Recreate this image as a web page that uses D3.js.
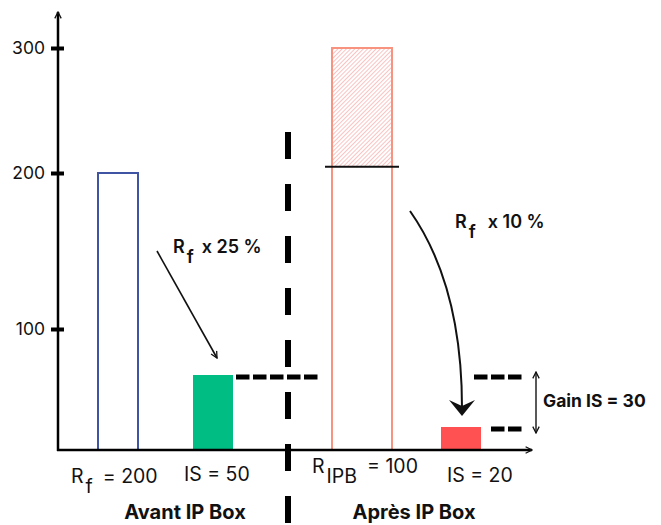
<!DOCTYPE html>
<html>
<head>
<meta charset="utf-8">
<script src="https://cdn.jsdelivr.net/npm/d3@7"></script>
<style>
  body { margin: 0; background: #fff; }
  text { font-family: Inter, "Noto Sans", sans-serif; fill: #111; }
</style>
</head>
<body>
<script>
var w = 661;
var h = 525;

var categories = ["Rf", "IS_avant", "RIPB", "IS_apres"];
var values = [200, 50, 300, 20];
var tickValues = [100, 200, 300];
var seuilIPB = 205;       // trait noir sur la barre R_IPB
var gainIS = [50, 20];    // niveaux des pointillés à droite

var svg = d3.select("body")
    .append("svg")
    .attr("width", w)
    .attr("height", h);

// axe schématique (pas à l'échelle) : échelle polylinéaire
var y = d3.scaleLinear()
    .domain([0, 20, 50, 100, 200, 300])
    .range([450, 427, 375, 329, 173, 48]);

var x = d3.scaleOrdinal()
    .domain(categories)
    .range([118, 213, 362, 461]);

var barW = [40, 40, 60, 40];

var defs = svg.append("defs");
var pat = defs.append("pattern")
    .attr("id", "hatch")
    .attr("patternUnits", "userSpaceOnUse")
    .attr("width", 3)
    .attr("height", 3)
    .attr("patternTransform", "rotate(45)");
pat.append("rect").attr("width", 3).attr("height", 3).attr("fill", "#fff");
pat.append("line")
    .attr("x1", 0).attr("y1", 0).attr("x2", 0).attr("y2", 3)
    .attr("stroke", "#f7aaa8").attr("stroke-width", 1.4);

defs.append("marker")
    .attr("id", "open")
    .attr("viewBox", "0 0 10 10")
    .attr("refX", 9).attr("refY", 5)
    .attr("markerWidth", 8).attr("markerHeight", 8)
    .attr("markerUnits", "userSpaceOnUse")
    .attr("orient", "auto-start-reverse")
    .append("path")
    .attr("d", "M1,1 L9,5 L1,9")
    .attr("fill", "none")
    .attr("stroke", "#111")
    .attr("stroke-width", 1.6);

// barres
svg.selectAll("rect.bar")
    .data(categories)
    .enter()
    .append("rect")
    .attr("class", "bar")
    .attr("x", function (d, i) { return x(d) - barW[i] / 2; })
    .attr("y", function (d, i) { return y(values[i]); })
    .attr("width", function (d, i) { return barW[i]; })
    .attr("height", function (d, i) { return y(0) - y(values[i]); })
    .attr("fill", function (d, i) {
        if (i == 0 || i == 2) { return "none"; }
        if (i == 1) { return "#00bd84"; }
        return "#ff5152";
    })
    .attr("stroke", function (d, i) {
        if (i == 0) { return "#3f54a3"; }
        if (i == 2) { return "#f8937f"; }
        return "none";
    })
    .attr("stroke-width", 2);

// partie hachurée de R_IPB
svg.append("rect")
    .attr("x", x("RIPB") - barW[2] / 2 + 1)
    .attr("y", y(values[2]) + 1)
    .attr("width", barW[2] - 2)
    .attr("height", y(seuilIPB) - y(values[2]) - 1)
    .attr("fill", "url(#hatch)");

svg.append("line")
    .attr("x1", x("RIPB") - barW[2] / 2 - 7)
    .attr("x2", x("RIPB") + barW[2] / 2 + 7)
    .attr("y1", y(seuilIPB)).attr("y2", y(seuilIPB))
    .attr("stroke", "#111").attr("stroke-width", 2);

// axes
var yAxis = d3.axisLeft(y)
    .tickValues(tickValues)
    .tickSize(0)
    .tickPadding(13);

var gy = svg.append("g")
    .attr("transform", "translate(58,0)")
    .call(yAxis);
gy.select(".domain").remove();
gy.selectAll("text")
    .attr("font-size", 17.5)
    .attr("fill", "#222")
    .attr("font-family", "Inter, sans-serif");
gy.selectAll(".tick").append("line")
    .attr("x1", -7).attr("x2", 6)
    .attr("stroke", "#000").attr("stroke-width", 4);

svg.append("line")
    .attr("x1", 58).attr("x2", 58)
    .attr("y1", y(0) + 1).attr("y2", 12)
    .attr("stroke", "#000").attr("stroke-width", 2.5)
    .attr("marker-end", "url(#open)");

svg.append("line")
    .attr("x1", 57).attr("x2", 532)
    .attr("y1", y(0)).attr("y2", y(0))
    .attr("stroke", "#000").attr("stroke-width", 2.5)
    .attr("marker-end", "url(#open)");

// séparation avant / après
svg.append("line")
    .attr("x1", 288).attr("x2", 288)
    .attr("y1", 132).attr("y2", h)
    .attr("stroke", "#000").attr("stroke-width", 6)
    .attr("stroke-dasharray", "27,25");

// pointillés horizontaux
var dashes = [
    [236, 320, gainIS[0]],
    [474, 522, gainIS[0]],
    [491, 522, gainIS[1]]
];
svg.selectAll("line.dash")
    .data(dashes)
    .enter()
    .append("line")
    .attr("class", "dash")
    .attr("x1", function (d) { return d[0]; })
    .attr("x2", function (d) { return d[1]; })
    .attr("y1", function (d) { return y(d[2]) + 2; })
    .attr("y2", function (d) { return y(d[2]) + 2; })
    .attr("stroke", "#000").attr("stroke-width", 5)
    .attr("stroke-dasharray", "13.5,3.5");

// flèche double Gain IS
svg.append("line")
    .attr("x1", 536).attr("x2", 536)
    .attr("y1", y(gainIS[0]) - 3).attr("y2", y(gainIS[1]) + 6)
    .attr("stroke", "#222").attr("stroke-width", 1.5)
    .attr("marker-start", "url(#open)")
    .attr("marker-end", "url(#open)");

// flèche Rf x 25 %
svg.append("line")
    .attr("x1", 157).attr("y1", 251)
    .attr("x2", 217).attr("y2", 358)
    .attr("stroke", "#111").attr("stroke-width", 1.6)
    .attr("marker-end", "url(#open)");

// flèche courbe Rf x 10 %
svg.append("path")
    .attr("d", "M410,211 Q462,285 462,408")
    .attr("fill", "none")
    .attr("stroke", "#111").attr("stroke-width", 2);
svg.append("path")
    .attr("d", "M462,416 L449,400 L462,406 L475,400 Z")
    .attr("fill", "#111");

// textes
function sub(xx, yy, main, s, rest, dxRest, bold, fs) {
    var tx = svg.append("text")
        .attr("x", xx).attr("y", yy)
        .attr("font-size", fs)
        .attr("font-weight", bold ? 600 : 400);
    tx.append("tspan").text(main);
    tx.append("tspan").attr("dx", 2).attr("dy", 10).text(s);
    tx.append("tspan").attr("dx", dxRest).attr("dy", -10).text(rest);
    return tx;
}
sub(71, 483, "R", "f", "= 200", 10, false, 19.5);
sub(312, 473, "R", "IPB", "= 100", 10, false, 19.5);
sub(173, 253, "R", "f", "x 25 %", 8, true, 18);
sub(455, 228, "R", "f", "x 10 %", 12, true, 18);

svg.append("text").attr("x", 184).attr("y", 481).attr("font-size", 19.5).text("IS = 50");
svg.append("text").attr("x", 447).attr("y", 482).attr("font-size", 19.5).text("IS = 20");

svg.append("text").attr("x", 185).attr("y", 519).attr("font-size", 20)
    .attr("font-weight", 700).attr("text-anchor", "middle").text("Avant IP Box");
svg.append("text").attr("x", 414).attr("y", 519).attr("font-size", 20)
    .attr("font-weight", 700).attr("text-anchor", "middle").text("Après IP Box");
svg.append("text").attr("x", 543).attr("y", 407).attr("font-size", 17.5)
    .attr("font-weight", 700).text("Gain IS = 30");
</script>
</body>
</html>
